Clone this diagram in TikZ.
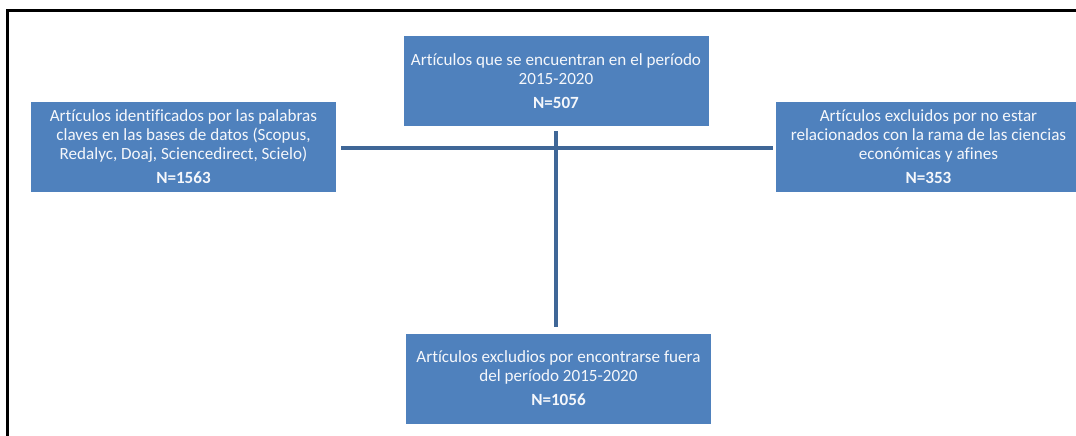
\documentclass[tikz,border=0pt]{standalone}
\usepackage{fontspec}
\setmainfont[Ligatures=NoCommon]{Carlito}
\definecolor{boxblue}{HTML}{4F81BD}
\definecolor{lineblue}{HTML}{3F6797}
\begin{document}
\begin{tikzpicture}[x=1pt,y=-1pt,
  box/.style={fill=boxblue, draw=none, minimum width=305pt, minimum height=90pt,
    align=center, inner sep=0pt, text=white!94!boxblue,
    font=\fontsize{17.1}{19}\selectfont},
  conn/.style={draw=lineblue, line width=4pt}]
\useasboundingbox (0,0) rectangle (1076,436);
\draw[line width=3pt] (7.5,436) -- (7.5,11) -- (1076,11);
\node[box] (L) at (183.5,147) {Artículos identificados por las palabras\\claves en las bases de datos (Scopus,\\Redalyc, Doaj, Sciencedirect, Scielo)\\[5pt]\textbf{N=1563}};
\node[box] (T) at (556,81) {Artículos que se encuentran en el período\\2015-2020\\[5pt]\textbf{N=507}};
\node[box] (R) at (928.5,147) {Artículos excluidos por no estar\\relacionados con la rama de las ciencias\\económicas y afines\\[5pt]\textbf{N=353}};
\node[box] (B) at (558.5,378.5) {Artículos excludios por encontrarse fuera\\del período 2015-2020\\[5pt]\textbf{N=1056}};
\draw[conn, shorten <=5pt, shorten >=3pt] (L.east |- 0,148) -- (R.west |- 0,148);
\draw[conn, shorten <=5pt, shorten >=6pt] (T.south) -- (T.south |- B.north);
\end{tikzpicture}
\end{document}
